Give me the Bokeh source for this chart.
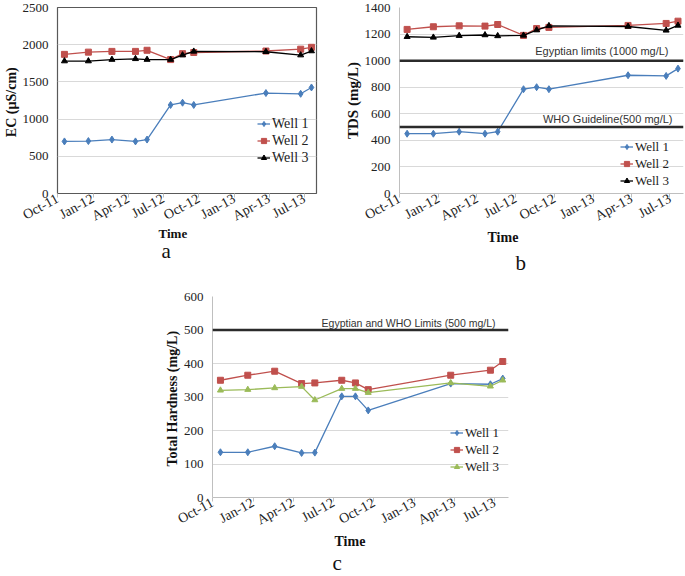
from datetime import datetime
import pandas as pd
from bokeh.plotting import figure
from bokeh.models import (Range1d, SingleIntervalTicker, MonthsTicker, DatetimeTickFormatter,
                          Span, Label, Spacer, Title)
from bokeh.layouts import column, row
from bokeh.embed import file_html
from bokeh.resources import INLINE

# ---------------- data ----------------
sample_dates = ["2011-10-19", "2011-12-20", "2012-02-19", "2012-04-20", "2012-05-20",
                "2012-07-20", "2012-08-20", "2012-09-18", "2013-03-24", "2013-06-22",
                "2013-07-20"]
tick_months = [0, 3, 6, 9]          # Jan, Apr, Jul, Oct (0-based months)
well_names = ["Well 1", "Well 2", "Well 3"]

ec_well1 = [700, 705, 725, 700, 725, 1190, 1220, 1190, 1350, 1340, 1425]
ec_well2 = [1870, 1900, 1910, 1910, 1925, 1800, 1880, 1895, 1915, 1940, 1965]
ec_well3 = [1780, 1780, 1800, 1810, 1800, 1800, 1860, 1910, 1905, 1860, 1915]

tds_well1 = [450, 450, 465, 450, 465, 785, 800, 785, 890, 885, 940]
tds_well2 = [1235, 1255, 1262, 1260, 1272, 1190, 1242, 1250, 1265, 1280, 1297]
tds_well3 = [1180, 1175, 1188, 1193, 1186, 1190, 1230, 1262, 1257, 1228, 1265]

th_well1 = [135, 135, 153, 133, 134, 302, 302, 260, 340, 338, 355]
th_well2 = [350, 365, 377, 340, 342, 350, 342, 322, 365, 380, 406]
th_well3 = [320, 322, 327, 331, 291, 325, 325, 313, 342, 332, 350]

tds_egypt_limit = 1000
tds_who_limit = 500
th_limit = 500

dates = pd.to_datetime(sample_dates)
x_start = datetime(2011, 10, 1)
x_end = datetime(2013, 8, 2)

SERIF = "Liberation Serif"
SANS = "Liberation Sans"
BLUE = "#4a7ebb"
RED = "#c0504d"
GREEN = "#9bbb59"
BLACK = "#000000"


def make_panel(width, height, left, right, top, ymax, yint, outline, ytitle, ytitle_size):
    p = figure(width=width, height=height, x_axis_type="datetime",
               x_range=Range1d(x_start, x_end), y_range=Range1d(0, ymax),
               output_backend="svg", toolbar_location=None,
               min_border_left=left, min_border_right=right,
               min_border_top=top, min_border_bottom=30)
    p.xaxis.ticker = MonthsTicker(months=tick_months)
    p.xaxis.formatter = DatetimeTickFormatter(months="%b-%y", days="%b-%y", years="%b-%y")
    p.xaxis.major_label_orientation = 0.5
    p.yaxis.ticker = SingleIntervalTicker(interval=yint)
    for ax in (p.xaxis, p.yaxis):
        ax.major_label_text_font = SERIF
        ax.major_label_text_color = "#222222"
        ax.minor_tick_line_color = None
        ax.axis_label_text_font = SERIF
        ax.axis_label_text_font_style = "bold"
        ax.axis_label_text_color = "#111111"
    p.xaxis.major_label_text_font_size = "14px"
    p.yaxis.major_label_text_font_size = "13px"
    p.xaxis.major_tick_out = 4
    p.xaxis.major_tick_in = 0
    p.xaxis.major_tick_line_color = "#bfbfbf"
    p.xaxis.major_label_standoff = 0
    p.yaxis.major_tick_out = 0
    p.yaxis.major_tick_in = 0
    p.yaxis.major_label_standoff = 5
    p.yaxis.axis_label = ytitle
    p.yaxis.axis_label_text_font_size = ytitle_size
    p.yaxis.axis_label_standoff = 1
    p.xgrid.grid_line_color = None
    p.ygrid.grid_line_color = "#d9d9d9"
    p.ygrid.ticker = SingleIntervalTicker(interval=yint)
    if outline:
        p.outline_line_color = "#595959"
        p.outline_line_width = 1.2
        p.xaxis.axis_line_color = None
        p.yaxis.axis_line_color = None
    else:
        p.outline_line_color = None
        p.xaxis.axis_line_color = "#bfbfbf"
        p.yaxis.axis_line_color = "#bfbfbf"
    p.background_fill_color = "white"
    p.border_fill_color = "white"
    return p


def add_series(p, values, colors, markers, sizes):
    for name, vals, c, m, s in zip(well_names, values, colors, markers, sizes):
        p.line(dates, vals, line_color=c, line_width=1.3, legend_label=name)
        p.scatter(dates, vals, marker=m, size=s, fill_color=c, line_color=c, legend_label=name)


def style_legend(p, loc, font_size, row_h):
    lg = p.legend[0]
    lg.location = loc
    lg.background_fill_alpha = 0
    lg.border_line_alpha = 0
    lg.label_text_font = SERIF
    lg.label_text_font_size = font_size
    lg.label_text_color = "#222222"
    lg.glyph_width = 13
    lg.glyph_height = row_h
    lg.label_height = row_h
    lg.spacing = 0
    lg.padding = 0
    lg.margin = 0
    lg.label_standoff = 2


def add_bottom_titles(p, time_size, time_offset, time_standoff, letter, letter_offset,
                      letter_standoff):
    p.add_layout(Title(text="Time", align="left", offset=time_offset, standoff=time_standoff,
                       vertical_align="top",
                       text_font=SERIF, text_font_style="bold", text_font_size=time_size,
                       text_color="#111111"), "below")
    p.add_layout(Title(text=letter, align="left", offset=letter_offset,
                       standoff=letter_standoff, vertical_align="bottom",
                       text_font=SERIF, text_font_style="normal", text_font_size="21px",
                       text_color="#111111"), "below")


def add_limit(p, level, text, x_screen, yoff, size):
    p.add_layout(Span(location=level, dimension="width", line_color="#2b2b2b", line_width=2.5))
    p.add_layout(Label(x=x_screen, y=level, x_units="screen", y_units="data", text=text,
                       y_offset=yoff, text_align="right", text_baseline="middle",
                       text_font=SANS, text_font_size=size, text_color="#333333"))


# ---------------- panel a : EC ----------------
pa = make_panel(340, 280, 52, 24, 7, 2500, 500, True, "EC  (\u00b5S/cm)", "14px")
add_series(pa, [ec_well1, ec_well2, ec_well3], [BLUE, RED, BLACK],
           ["diamond", "square", "triangle"], [7, 6, 6])
style_legend(pa, (200, 27), "14px", 17)
add_bottom_titles(pa, "13px", 101, -14, "a", 104, 2)

# ---------------- panel b : TDS ----------------
pb = make_panel(345, 280, 59, 2, 7, 1400, 200, False, "TDS (mg/L)", "15px")
add_limit(pb, tds_egypt_limit, "Egyptian limits (1000 mg/L)", 269, 10, "11px")
add_limit(pb, tds_who_limit, "WHO Guideline(500 mg/L)", 273, 8, "11px")
add_series(pb, [tds_well1, tds_well2, tds_well3], [BLUE, RED, BLACK],
           ["diamond", "square", "triangle"], [7, 6, 6])
style_legend(pb, (221, 4), "13px", 17)
add_bottom_titles(pb, "14px", 88, -6, "b", 116, 11)

# ---------------- panel c : Total hardness ----------------
pc = make_panel(360, 296, 52, 12, 16, 600, 100, False, "Total  Hardness (mg/L)", "14px")
add_limit(pc, th_limit, "Egyptian and WHO Limits (500 mg/L)", 283, 7, "10.5px")
add_series(pc, [th_well1, th_well2, th_well3], [BLUE, RED, GREEN],
           ["diamond", "square", "triangle"], [7, 6, 6])
style_legend(pc, (238, 22), "13px", 17)
add_bottom_titles(pc, "14px", 122, -6, "c", 120, 3)

layout = column(row(pa, pb), row(Spacer(width=160, height=296), pc))

open("out.html", "w").write(file_html(layout, INLINE))
